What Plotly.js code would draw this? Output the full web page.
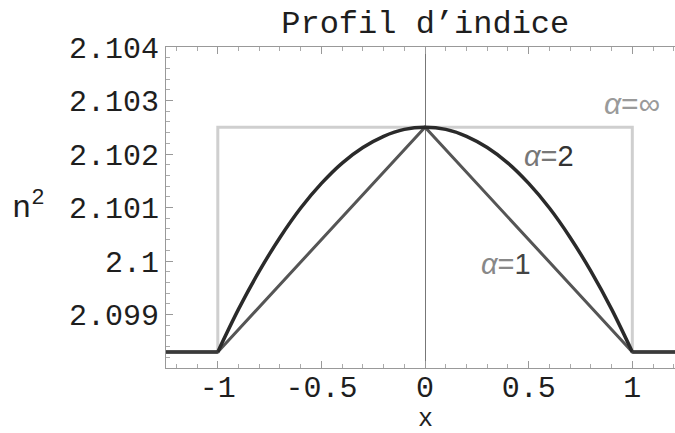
<!DOCTYPE html>
<html><head><meta charset="utf-8">
<script src="https://cdn.plot.ly/plotly-3.0.1.min.js"></script>
<style>body{margin:0;background:#fff}#plot{width:675px;height:433px}</style>
</head><body><div id="plot"></div>
<script>
// Step-index profile (alpha = infinity)
const xInf = [-1.25, -1, -1, 1, 1, 1.25];
const yInf = [2.0983, 2.0983, 2.1025, 2.1025, 2.0983, 2.0983];
// Triangular profile (alpha = 1)
const xA1 = [-1.25, -1, 0, 1, 1.25];
const yA1 = [2.0983, 2.0983, 2.1025, 2.0983, 2.0983];
// Parabolic profile (alpha = 2)
const xA2 = [-1, -0.9, -0.8, -0.7, -0.6, -0.5, -0.4, -0.3, -0.2, -0.1, 0,
             0.1, 0.2, 0.3, 0.4, 0.5, 0.6, 0.7, 0.8, 0.9, 1];
const yA2 = [2.0983, 2.09910, 2.09981, 2.10044, 2.10099, 2.10145, 2.10183, 2.10212, 2.10233, 2.10246, 2.1025,
             2.10246, 2.10233, 2.10212, 2.10183, 2.10145, 2.10099, 2.10044, 2.09981, 2.09910, 2.0983];
// Cladding level outside the core
const xClad = [-1.25, -1, null, 1, 1.25];
const yClad = [2.0983, 2.0983, null, 2.0983, 2.0983];
const xTicks = [-1, -0.5, 0, 0.5, 1];
const xTickText = ["-1", "-0.5", "0", "0.5", "1"];
const yTicks = [2.099, 2.1, 2.101, 2.102, 2.103, 2.104];
const yTickText = ["2.099", "2.1", "2.101", "2.102", "2.103", "2.104"];

const mono = "Liberation Mono, Courier New, monospace";
const txt = "#1e1e1e";
const traces = [
  {x: xInf, y: yInf, mode: "lines", line: {color: "#cfcfcf", width: 3}, hoverinfo: "skip"},
  {x: xA1, y: yA1, mode: "lines", line: {color: "#555555", width: 3}, hoverinfo: "skip"},
  {x: xA2, y: yA2, mode: "lines", line: {color: "#2a2a2a", width: 3.5, shape: "spline", smoothing: 1}, hoverinfo: "skip"},
  {x: xClad, y: yClad, mode: "lines", line: {color: "#3a3a3a", width: 3.5}, hoverinfo: "skip"}
];
const layout = {
  width: 675, height: 433,
  margin: {l: 166, r: 0, t: 47, b: 65},
  paper_bgcolor: "#fff", plot_bgcolor: "#fff",
  showlegend: false,
  title: {text: "Profil d\u2019indice", font: {family: mono, size: 32, color: txt}, x: 0.63, xanchor: "center", y: 0.95, yanchor: "middle"},
  xaxis: {
    range: [-1.25, 1.206], tickvals: xTicks, ticktext: xTickText,
    showgrid: false, zeroline: true, zerolinecolor: "#777", zerolinewidth: 1,
    showline: true, linecolor: "#999", linewidth: 1, mirror: "ticks",
    ticks: "inside", ticklen: 7, tickcolor: "#999", tickwidth: 1,
    ticklabelstandoff: -8,
    minor: {dtick: 0.1, ticks: "inside", ticklen: 4, tickcolor: "#aaa", showgrid: false},
    tickfont: {family: mono, size: 30, color: txt}
  },
  yaxis: {
    range: [2.098, 2.104], tickvals: yTicks, ticktext: yTickText,
    showgrid: false, zeroline: false,
    showline: true, linecolor: "#999", linewidth: 1, mirror: false,
    ticks: "inside", ticklen: 7, tickcolor: "#999", tickwidth: 1,
    minor: {dtick: 0.0002, ticks: "inside", ticklen: 4, tickcolor: "#aaa", showgrid: false},
    tickfont: {family: mono, size: 30, color: txt}
  },
  annotations: [
    {x: 1.0, y: 2.10295, xref: "x", yref: "y", text: "<i>\u03b1</i>=\u221e", showarrow: false,
     font: {family: "Liberation Sans, Arial", size: 30, color: "#9a9a9a"}},
    {x: 0.596, y: 2.10196, xref: "x", yref: "y", text: "<span style='color:#777'><i>\u03b1</i>=</span>2", showarrow: false,
     font: {family: "Liberation Sans, Arial", size: 29, color: "#333"}},
    {x: 0.392, y: 2.09994, xref: "x", yref: "y", text: "<span style='color:#888'><i>\u03b1</i>=</span>1", showarrow: false,
     font: {family: "Liberation Sans, Arial", size: 29, color: "#444"}},
    {x: (28 - 166) / 509, y: (433 - 65 - 206) / 321, xref: "paper", yref: "paper", xanchor: "center", text: "n<sup>2</sup>", showarrow: false,
     font: {family: mono, size: 32, color: txt}},
    {x: 0, y: 2.098, xref: "x", yref: "y", yshift: -51, text: "x", showarrow: false, borderpad: 0,
     font: {family: mono, size: 25, color: txt}}
  ]
};
Plotly.newPlot("plot", traces, layout, {staticPlot: true, displayModeBar: false});
</script>
</body></html>
